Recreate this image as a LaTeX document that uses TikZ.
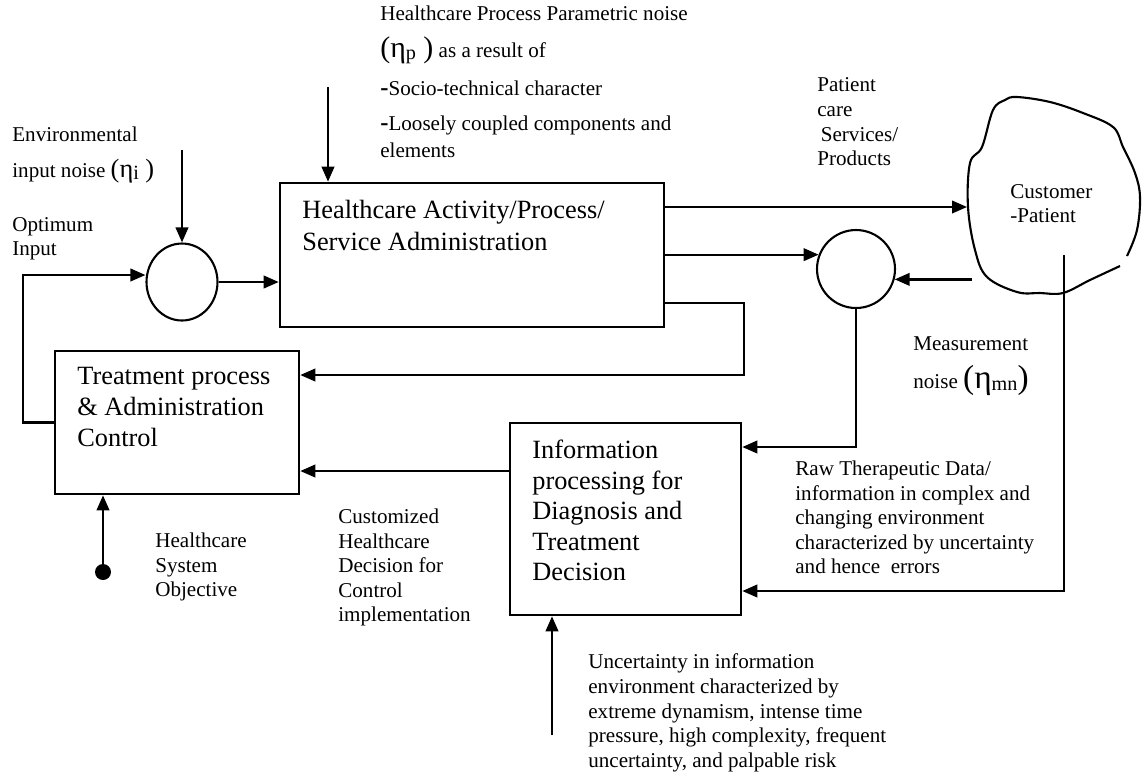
\documentclass[tikz,border=0pt]{standalone}
\usepackage{fontspec}
\setmainfont{Liberation Serif}
\usetikzlibrary{arrows.meta,shapes.geometric,calc}
\newcommand{\mylblfont}{\fontsize{12}{14}\selectfont}
\newcommand{\mydash}{{\fontsize{14}{14}\selectfont\bfseries -}}
\newcommand{\myeta}[3]{{\fontsize{#1}{#1}\selectfont (η}\raisebox{-1.5pt}{\fontsize{11.5}{11.5}\selectfont #2}{\fontsize{#1}{#1}\selectfont #3)}}
\tikzset{
  x=0.02cm, y=-0.02cm,
  ln/.style={line width=1.3pt},
  arr/.style={ln, -{Triangle[length=0.3cm,width=0.25cm]}},
  blk/.style={draw, line width=1.5pt, rectangle, inner sep=0pt},
  sumnode/.style={draw, line width=1.2pt, ellipse, inner sep=0pt},
  lbl/.style={inner sep=0pt, align=left, anchor=north west, font=\mylblfont},
  lblb/.style={inner sep=0pt, anchor=base west, font=\mylblfont},
  btxt/.style={inner sep=0pt, align=left, anchor=north west},
}
\begin{document}
\begin{tikzpicture}
\path[use as bounding box] (0,0) rectangle (1142,772);

% blocks
\node[blk, minimum width=7.68cm, minimum height=2.88cm] (ha) at (472,255) {};
\node[blk, minimum width=4.88cm, minimum height=2.86cm] (tp) at (177,422.5) {};
\node[blk, minimum width=4.62cm, minimum height=3.84cm] (ip) at (625.5,519) {};
\node[sumnode, minimum width=1.42cm, minimum height=1.54cm] (s1) at (182,282) {};
\node[sumnode, minimum width=1.56cm, minimum height=1.56cm] (s2) at (856,269) {};

% cloud (customer - patient)
\draw[line width=1.2pt] plot[smooth, tension=0.6] coordinates {(1120,266) (1090,280) (1063,293) (1040,293) (1017,292) (987,277) (975,250) (968,207) (970,163) (982,147) (993,110) (1005,100) (1017,97) (1050,102) (1083,113) (1113,127) (1123,147) (1135,173) (1140,197) (1137,230) (1127,256)};
\node[lbl] (cust) at (1010,184) {Customer\\-Patient};

% box texts
\node[btxt, font=\fontsize{15}{18}\selectfont] (hat) at (302,200) {Healthcare Activity/Process/\\Service Administration};
\node[btxt, font=\fontsize{15}{17.6}\selectfont] (tpt) at (77,367) {Treatment process\\\& Administration\\Control};
\node[btxt, font=\fontsize{15}{17.4}\selectfont] (ipt) at (532,439.7) {Information\\processing for\\Diagnosis and\\Treatment\\Decision};

% helper coordinates
\coordinate (envtop) at (182,150);
\coordinate (ptop) at (328,87);
\coordinate (optc) at (23,275);
\coordinate (cin) at (967,207);
\coordinate (cout) at (972,279);
\coordinate (cdown) at (1064,255);
\coordinate (fbx) at (744,0);
\coordinate (yfba) at (0,303);
\coordinate (yfbb) at (0,375);
\coordinate (yraw) at (0,447);
\coordinate (ydec) at (0,471);
\coordinate (yerr) at (0,591);
\coordinate (unc) at (552,735);
\node[circle, fill, inner sep=0pt, minimum size=0.32cm] (obj) at (103,572) {};

% connectors
\draw[arr] (envtop) -- (s1.north);
\draw[arr] (ptop) -- (ptop |- ha.north);
\draw[arr] (tp.west) -| (optc) -- (optc -| s1.west);
\draw[arr] (s1.east) -- (s1.east -| ha.west);
\draw[arr] (ha.east |- cin) -- (cin);
\draw[arr] (ha.east |- s2.159) -- (s2.159);
\draw[arr] (cout |- s2.345) -- (s2.345);
\draw[arr] (s2.south) |- (ip.east |- yraw);
\draw[arr] (ha.east |- yfba) -- (fbx |- yfba) -- (fbx |- yfbb) -- (tp.east |- yfbb);
\draw[arr] (ip.west |- ydec) -- (tp.east |- ydec);
\draw[arr] (cdown) |- (ip.east |- yerr);
\draw[arr] (obj) -- (obj |- tp.south);
\draw[arr] (unc) -- (unc |- ip.south);

% labels
\node[lblb] (env1) at (12,141.7) {Environmental};
\node[lblb] (env2) at (12,177) {input noise \myeta{15}{i}{\ }};
\node[lbl] (opt) at (12,217) {Optimum\\Input};
\node[lblb] (pn1) at (380,20) {Healthcare Process Parametric noise};
\node[lblb] (pn2) at (380,57) {\myeta{17}{p}{\ } as a result of};
\node[lblb] (pn3) at (380,95) {\mydash Socio-technical character};
\node[lblb] (pn4) at (380,130) {\mydash Loosely coupled components and};
\node[lblb] (pn5) at (380,157) {elements};
\node[lbl] (pc) at (817,77.6) {Patient\\care\\\,Services/\\Products};
\node[lblb] (ms1) at (913,350) {Measurement};
\node[lblb] (ms2) at (913,388) {noise \myeta{19}{mn}{}};
\node[lbl] (raw) at (795,460.6) {Raw Therapeutic Data/\\information in complex and\\changing environment\\characterized by uncertainty\\and hence\ \ errors};
\node[lbl] (hso) at (155,532.6) {Healthcare\\System\\Objective};
\node[lbl] (chd) at (338,508.6) {Customized\\Healthcare\\Decision for\\Control\\implementation};
\node[lbl] (unt) at (588,653.6) {Uncertainty in information\\environment\ characterized by\\extreme dynamism, intense time\\pressure, high complexity, frequent\\uncertainty, and palpable\ risk};
\end{tikzpicture}
\end{document}
